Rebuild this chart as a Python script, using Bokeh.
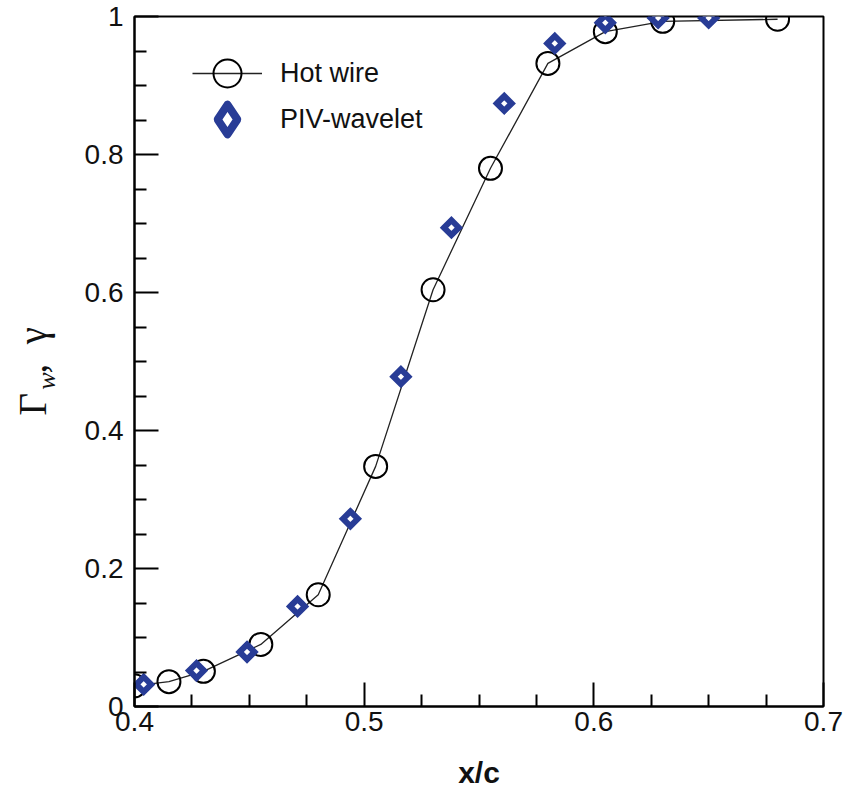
import math
from bokeh.plotting import figure
from bokeh.models import (Range1d, FixedTicker, CustomJSTickFormatter, Legend,
                          LegendItem, LinearAxis)
from bokeh.embed import file_html
from bokeh.resources import INLINE

# ---------------- data ----------------
hw_x = [0.400, 0.415, 0.430, 0.455, 0.480, 0.505, 0.530, 0.555, 0.580, 0.605, 0.630, 0.680]
hw_y = [0.030, 0.036, 0.051, 0.090, 0.162, 0.348, 0.604, 0.780, 0.932, 0.978, 0.993, 0.996]

piv_x = [0.404, 0.427, 0.449, 0.471, 0.494, 0.516, 0.538, 0.561, 0.583, 0.605, 0.628, 0.650]
piv_y = [0.032, 0.052, 0.079, 0.145, 0.272, 0.478, 0.694, 0.874, 0.961, 0.991, 0.998, 0.998]

x_ticks = [0.4, 0.5, 0.6, 0.7]
x_minor = [0.425, 0.45, 0.475, 0.525, 0.55, 0.575, 0.625, 0.65, 0.675]
y_ticks = [0, 0.2, 0.4, 0.6, 0.8, 1.0]
y_minor = [0.05, 0.1, 0.15, 0.25, 0.3, 0.35, 0.45, 0.5, 0.55,
           0.65, 0.7, 0.75, 0.85, 0.9, 0.95]

BLUE = "#283C96"
SANS = "Liberation Sans"
SERIF = "Liberation Serif"
NB = "\u00a0"

p = figure(width=856, height=791, x_range=Range1d(0.4, 0.7), y_range=Range1d(0, 1),
           output_backend="svg", toolbar_location=None,
           min_border_left=134, min_border_right=33, min_border_top=16, min_border_bottom=84)

p.grid.visible = False
p.outline_line_color = "black"
p.outline_line_width = 2
p.background_fill_color = "white"
p.border_fill_color = "white"

fmt = CustomJSTickFormatter(code="return (+tick.toFixed(2)).toString();")

for ax, ticks, minor in ((p.xaxis[0], x_ticks, x_minor), (p.yaxis[0], y_ticks, y_minor)):
    ax.ticker = FixedTicker(ticks=ticks, minor_ticks=minor)
    ax.formatter = fmt
    ax.axis_line_width = 2
    ax.axis_line_color = "black"
    ax.major_tick_in = 24
    ax.major_tick_out = 0
    ax.minor_tick_in = 12
    ax.minor_tick_out = 0
    ax.major_tick_line_width = 2
    ax.minor_tick_line_width = 2
    ax.major_tick_line_color = "black"
    ax.minor_tick_line_color = "black"
    ax.major_label_text_font = SANS
    ax.major_label_text_font_size = "28px"
    ax.major_label_text_color = "#111111"

p.xaxis.major_label_standoff = 5
p.yaxis.major_label_standoff = 11
p.xaxis.axis_label = "x/c"
p.xaxis.axis_label_text_font = SANS
p.xaxis.axis_label_text_font_size = "30px"
p.xaxis.axis_label_text_font_style = "bold"
p.xaxis.axis_label_text_color = "#111111"
p.xaxis.axis_label_standoff = 22

# y label, part 1: the subscript "w" (on the main y axis)
p.yaxis.axis_label = "w" + NB * 6
p.yaxis.axis_label_text_font = SERIF
p.yaxis.axis_label_text_font_size = "26px"
p.yaxis.axis_label_text_font_style = "italic"
p.yaxis.axis_label_text_color = "#111111"
p.yaxis.axis_label_standoff = 21

# y label, part 2: "Γ  ,  γ" on a bare extra axis, pulled in toward the plot
lab_ax = LinearAxis(ticker=FixedTicker(ticks=[]), axis_line_color=None,
                    major_tick_line_color=None, minor_tick_line_color=None,
                    major_tick_in=0, major_tick_out=0, minor_tick_in=0, minor_tick_out=0,
                    major_label_text_font_size="0px",
                    axis_label="Γ" + NB * 2 + "," + NB * 2 + "γ" + NB * 2,
                    axis_label_text_font=SERIF, axis_label_text_font_size="39px",
                    axis_label_text_font_style="normal",
                    axis_label_text_color="#111111", axis_label_standoff=-25)
p.add_layout(lab_ax, "left")

# ---------------- glyphs ----------------
line_r = p.line(hw_x, hw_y, line_color="#222222", line_width=1.3)
circ_r = p.scatter(hw_x, hw_y, marker="circle", size=23, fill_color=None,
                   line_color="black", line_width=2)
piv_r = p.scatter(piv_x, piv_y, marker="square", angle=math.pi / 4, size=10.5,
                  fill_color="white", line_color=BLUE, line_width=6, line_join="miter")
# legend key for PIV (hidden in the plot itself; only its legend swatch is drawn)
piv_key = p.scatter(piv_x, piv_y, marker="diamond", size=10, fill_color="white",
                    line_color=BLUE, line_width=8, line_join="round", visible=False)

common = dict(padding=0, margin=0, label_text_font=SANS, label_text_font_size="27px",
              label_text_color="#111111", border_line_color=None,
              background_fill_alpha=0, inactive_fill_alpha=0)
fb = 707  # frame bottom (canvas px)
leg1 = Legend(items=[LegendItem(label="Hot wire", renderers=[line_r, circ_r])],
              glyph_width=70, glyph_height=70, label_standoff=18,
              location=(58, fb - 74 - 35), **common)
leg2 = Legend(items=[LegendItem(label="PIV-wavelet", renderers=[piv_key])],
              glyph_width=80, glyph_height=74, label_standoff=13,
              location=(53, fb - 120 - 37), **common)
p.add_layout(leg1)
p.add_layout(leg2)

open("out.html", "w").write(file_html(p, INLINE))
